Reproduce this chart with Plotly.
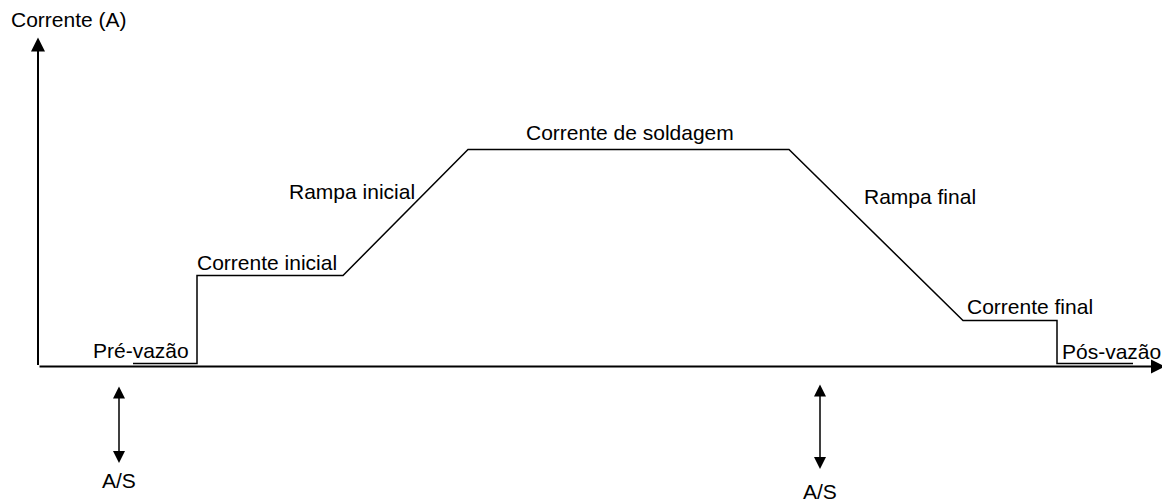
import plotly.graph_objects as go

# Welding current cycle (schematic). Time / current in arbitrary units,
# origin where the two axes cross.
tempo = [95, 159, 159, 305, 430, 751, 925, 1019, 1019, 1095]
corrente = [3, 3, 91, 91, 217, 217, 46, 46, 3, 3]

# Labels on the curve: (text, x, y)
rotulos = [
    ("Rampa inicial", 314, 175),
    ("Corrente de soldagem", 592, 234),
    ("Rampa final", 882, 170),
    ("Corrente inicial", 229, 104),
    ("Corrente final", 992, 60),
    ("Pré-vazão", 103, 16),
    ("Pós-vazão", 1073, 15),
]

# Start / stop trigger marks (A/S) : x, top, bottom, label y
gatilhos_x = [81, 782]
gatilhos_topo = [-20, -18]
gatilhos_base = [-98, -104]
gatilhos_label_y = [-114, -125]

eixo_x_fim = 1127
eixo_y_fim = 329
fonte = "Liberation Sans, Arial, sans-serif"

fig = go.Figure()
fig.add_trace(go.Scatter(x=tempo, y=corrente, mode="lines",
                         line=dict(color="black", width=1.5),
                         hoverinfo="skip", showlegend=False))

anns = []
# axes with arrows
anns.append(dict(x=eixo_x_fim, y=0, ax=0, ay=0, axref="x", ayref="y",
                 xref="x", yref="y", text="", showarrow=True,
                 arrowhead=2, arrowsize=1.4, arrowwidth=2, arrowcolor="black"))
anns.append(dict(x=0, y=eixo_y_fim, ax=0, ay=0, axref="x", ayref="y",
                 xref="x", yref="y", text="", showarrow=True,
                 arrowhead=2, arrowsize=1.4, arrowwidth=2, arrowcolor="black"))
anns.append(dict(x=-29, y=347, xref="x", yref="y", text="Corrente (A)",
                 showarrow=False, xanchor="left", yanchor="middle",
                 font=dict(family=fonte, size=21, color="black")))

for txt, x, y in rotulos:
    anns.append(dict(x=x, y=y, xref="x", yref="y", text=txt, showarrow=False,
                     xanchor="center", yanchor="middle",
                     font=dict(family=fonte, size=21, color="black")))

for gx, gt, gb, gl in zip(gatilhos_x, gatilhos_topo, gatilhos_base, gatilhos_label_y):
    anns.append(dict(x=gx, y=gt, ax=gx, ay=gb, axref="x", ayref="y",
                     xref="x", yref="y", text="", showarrow=True,
                     arrowhead=2, arrowside="end+start", arrowsize=1.6,
                     arrowwidth=1.5, arrowcolor="black"))
    anns.append(dict(x=gx, y=gl, xref="x", yref="y", text="A/S", showarrow=False,
                     xanchor="center", yanchor="middle",
                     font=dict(family=fonte, size=21, color="black")))

# the page body has an 8px margin, so the figure is drawn 8px smaller
fig.update_layout(
    width=1162, height=496,
    margin=dict(l=0, r=0, t=0, b=0),
    plot_bgcolor="white", paper_bgcolor="white",
    annotations=anns,
    xaxis=dict(range=[-30, 1132], visible=False, fixedrange=True),
    yaxis=dict(range=[-137.5, 358.5], visible=False, fixedrange=True),
)

fig.write_html("out.html")
